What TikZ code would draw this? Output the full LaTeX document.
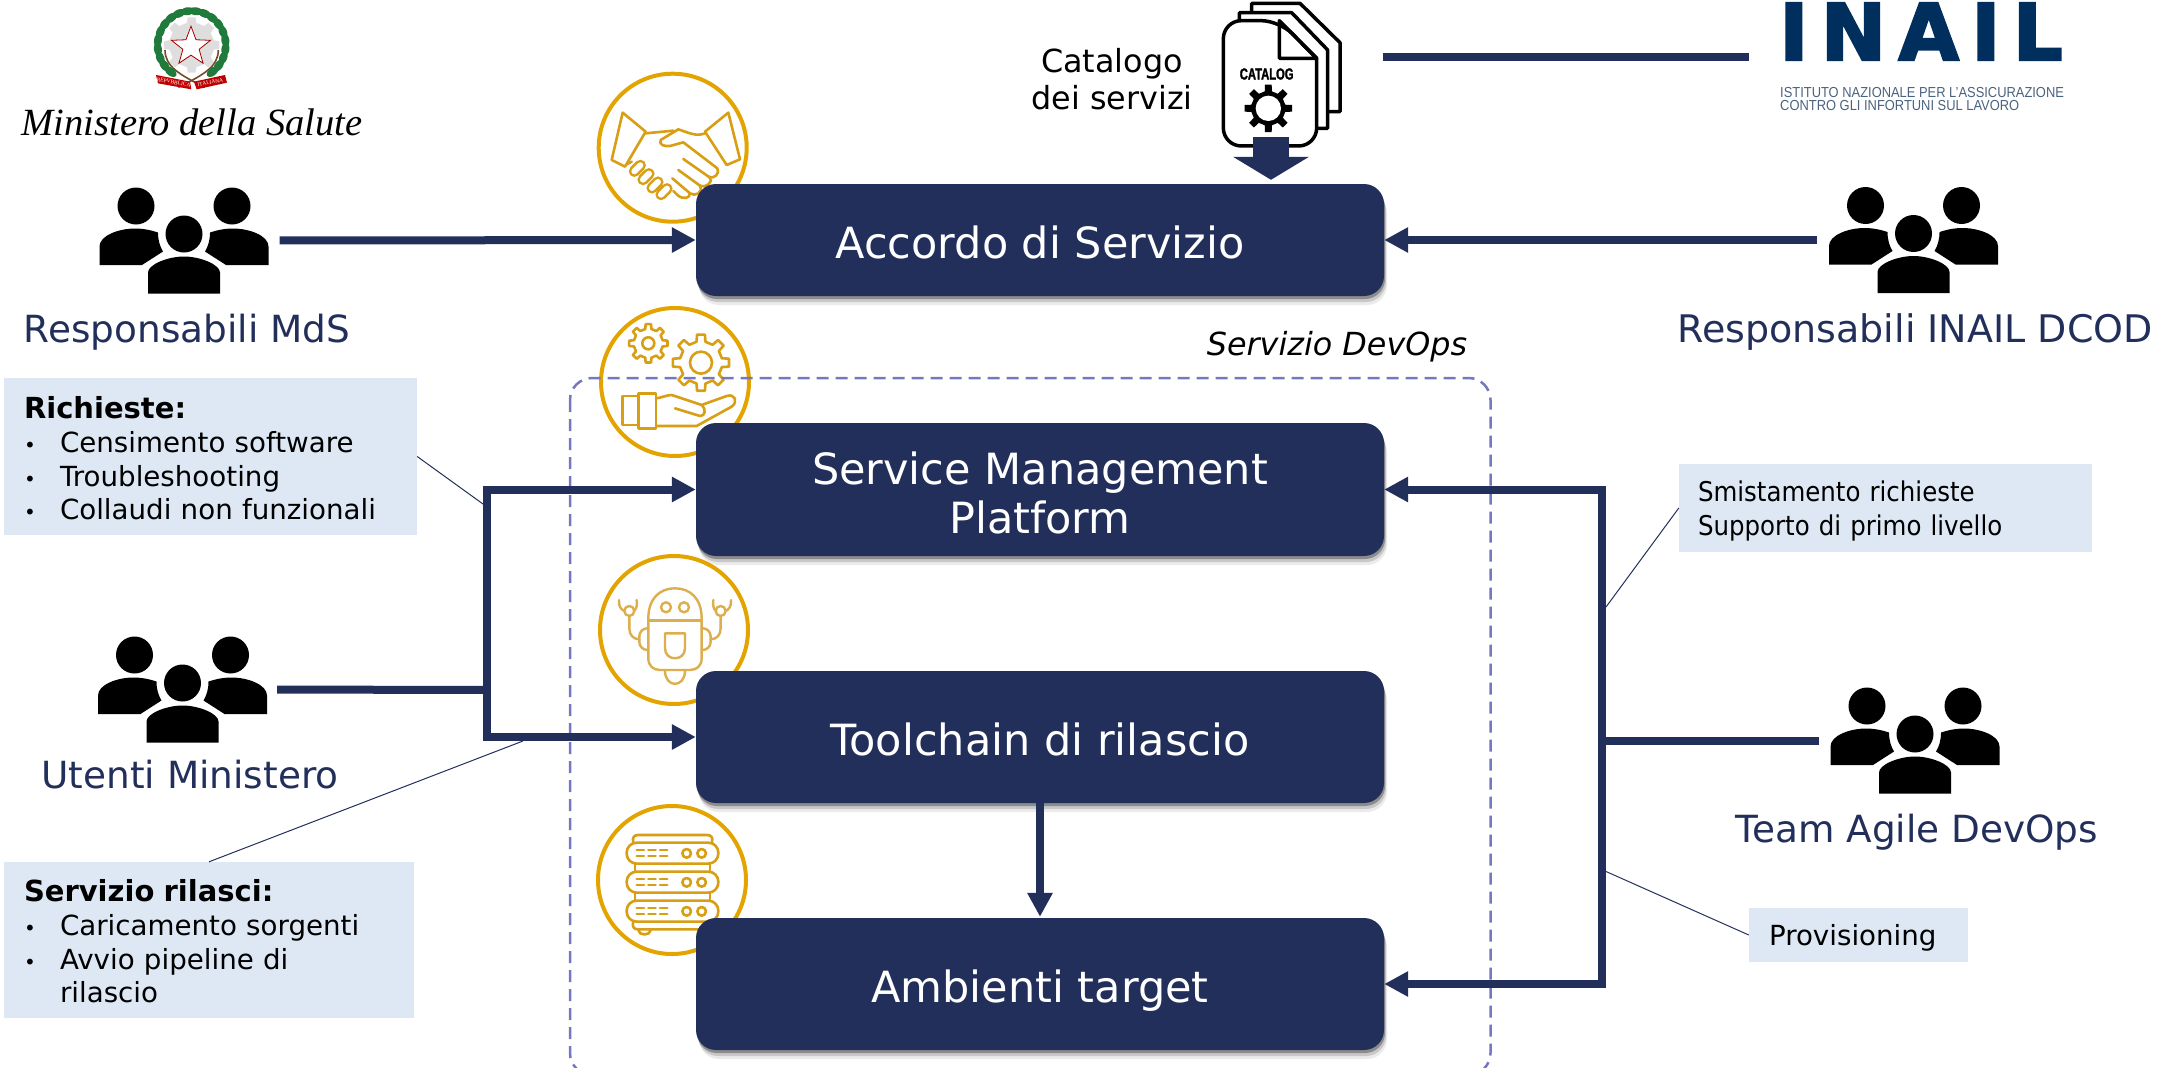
\documentclass[tikz,border=0pt]{standalone}
\usepackage{fontspec}
\usetikzlibrary{arrows.meta,shapes.geometric,shadows}
\setmainfont{DejaVu Sans}
\newfontfamily\tahomafont[FakeStretch=0.9]{DejaVu Sans}
\newfontfamily\logofont{Liberation Serif}
\newfontfamily\inailfont[LetterSpace=16,BoldFeatures={FakeBold=3}]{DejaVu Sans}
\newfontfamily\inailsmall[FakeStretch=0.89]{Liberation Sans}
\newfontfamily\catalogfont[FakeStretch=0.7,BoldFeatures={FakeBold=1.5}]{Liberation Sans}
\definecolor{navy}{HTML}{222F5B}
\definecolor{boxblue}{HTML}{DDE8F4}
\definecolor{ringgold}{HTML}{E3A400}
\definecolor{icongold}{HTML}{D89E14}
\definecolor{robotgold}{HTML}{DCAE4E}
\definecolor{dashblue}{HTML}{7478BE}
\definecolor{inailblue}{HTML}{002E5D}
\definecolor{inailgrey}{HTML}{4A6280}
\definecolor{leafgreen}{HTML}{1F7A3C}
\newcommand{\voce}[1]{\makebox[36pt][l]{\fontsize{20}{20}\selectfont\textbullet}#1}
\newcommand{\titolo}[1]{{\fontsize{29}{33.7}\selectfont\bfseries #1}}
\tikzset{
  mainbox/.style={fill=navy, rounded corners=20pt, minimum width=688pt, inner sep=0pt, align=center, text=white, font=\fontsize{43}{49}\selectfont,
    general shadow={shadow xshift=3pt,shadow yshift=-9pt,fill=black,opacity=.08},
    general shadow={shadow xshift=2pt,shadow yshift=-6pt,fill=black,opacity=.15},
    general shadow={shadow xshift=1pt,shadow yshift=-3pt,fill=black,opacity=.3}},
  singleline/.style={text height=36pt, text depth=0pt},
  infobox/.style={fill=boxblue, inner sep=0pt, align=left, text=black, font=\fontsize{27.7}{33.7}\selectfont},
  infoboxnarrow/.style={infobox, font=\tahomafont\fontsize{27.2}{33.7}\selectfont},
  grouplabel/.style={text=navy, inner sep=0pt, font=\fontsize{37.4}{44}\selectfont},
  groupicon/.style={minimum width=169pt, minimum height=105pt, inner sep=0pt},
  ring/.style={circle, draw=ringgold, line width=4pt, fill=white, minimum size=148pt, inner sep=0pt},
  flow/.style={draw=navy, line width=8pt, line join=miter},
  leader/.style={draw=navy, line width=1pt},
  handline/.style={draw=icongold, line width=2.6pt, line join=round, line cap=round},
  robotline/.style={draw=robotgold, line width=2.4pt, line join=round, line cap=round},
  docline/.style={draw=black, fill=white, line width=3.5pt, line join=round},
  pics/people/.style={code={
    \fill (-48,-34.5) circle (18.5);
    \fill (48,-34.5) circle (18.5);
    \fill (0,-6.5) circle (18.5);
    \foreach \s in {1,-1}{
      \fill[xscale=\s] (-84.5,24.5) -- (-84.5,6) .. controls (-84.5,-5) and (-65,-12) .. (-49,-12) .. controls (-40,-12) and (-32,-10) .. (-26,-8) .. controls (-26,0) and (-24,6) .. (-21,11) -- (-42,24.5) -- cycle;
    }
    \fill (-36,53) -- (-36,32) .. controls (-36,24) and (-16,16) .. (0,16) .. controls (16,16) and (36,24) .. (36,32) -- (36,53) -- cycle;
  }},
  pics/gearicon/.style n args={3}{code={
    \path[pic actions] (-12:#2) \foreach \a in {0,45,...,315}{ -- (\a-12:#2) -- (\a-8:#1) -- (\a+8:#1) -- (\a+12:#2)} -- cycle;
    \path[pic actions, fill=white] (0,0) circle (#3);
  }}
}
\begin{document}
\begin{tikzpicture}[x=1pt,y=-1pt]
\useasboundingbox (0,0) rectangle (2179,1068);
\clip (0,0) rectangle (2179,1068);

% stemma e logo Ministero
\begin{scope}[shift={(130,0)},scale=0.3333]
\pic[fill=black!13, transform shape] at (185,135) {gearicon={84}{68}{0.1}};
\draw[brown!60!black, line width=1.6pt] (105,150) .. controls (105,200) and (150,225) .. (225,262);
\draw[brown!60!black, line width=1.6pt] (265,150) .. controls (265,200) and (220,225) .. (145,262);
\foreach \a in {128,143,...,263}{
  \fill[leafgreen, shift={(185,135)}, rotate=-\a] (102,0) ellipse (12 and 20);
}
\foreach \a in {277,292,...,412}{
  \fill[leafgreen, shift={(185,135)}, rotate=-\a] (102,0) ellipse (12 and 20);
}
\fill[red!75!black] (78,225) -- (180,245) -- (184,268) -- (84,250) -- cycle;
\fill[red!75!black] (192,245) -- (285,225) -- (291,248) -- (200,268) -- cycle;
\node[star, star points=5, star point ratio=2.4, draw=red!65!black, fill=white, line width=.8pt, minimum size=41pt, inner sep=0pt] (emblemstar) at (183,140) {};
\node[rotate=-10, text=white, inner sep=0pt, font=\logofont\fontsize{5.5}{6}\selectfont] (ribbonleft) at (131,247) {REPVBBLICA};
\node[rotate=10, text=white, inner sep=0pt, font=\logofont\fontsize{5.5}{6}\selectfont] (ribbonright) at (241,247) {ITALIANA};
\end{scope}
\node[inner sep=0pt, font=\logofont\itshape\fontsize{38.5}{40}\selectfont] (ministero) at (192,122) {Ministero della Salute};

% logo INAIL
\node[inner sep=0pt, text=inailblue, font=\inailfont\bfseries\fontsize{78}{80}\selectfont] (inaillogo) at (1921,31.5) {INAIL};
\node[inner sep=0pt, anchor=west, align=left, text=inailgrey, font=\inailsmall\fontsize{14.5}{13}\selectfont] (inailname) at (1780,99) {ISTITUTO NAZIONALE PER L’ASSICURAZIONE\\CONTRO GLI INFORTUNI SUL LAVORO};

% documenti catalogo
\begin{scope}[shift={(1200,0)},scale=0.3333]
\draw[docline] (155,40) -- (155,10) -- (300,10) -- (420,128) -- (420,335) -- (380,335);
\draw[docline] (118,62) -- (118,38) -- (275,38) -- (383,150) -- (383,385) -- (350,385);
\draw[docline, rounded corners=18pt] (70,438) -- (70,62) -- (238,62) [sharp corners] -- (350,175) [rounded corners=18pt] -- (350,438) -- cycle;
\draw[draw=black, line width=3.5pt, line join=round] (238,62) -- (238,175) -- (350,175) -- cycle;
\pic[fill=black, transform shape] at (205,325) {gearicon={72}{52}{38}};
\node[inner sep=0pt, font=\catalogfont\bfseries\fontsize{16}{16}\selectfont] (catalogword) at (200,222) {CATALOG};
\end{scope}
\node[inner sep=0pt, align=center, font=\fontsize{31.8}{37.5}\selectfont] (catalogtext) at (1112,79) {Catalogo\\dei servizi};
\coordinate (catalogarrow) at (1271,137);
\coordinate (catalogline) at (1383,57);
\coordinate (inailline) at (1749,57);

% icone nei cerchi
\node[ring] (ringaccordo) at (672.7,147.7) {};
\node[ring] (ringservice) at (675,382) {};
\node[ring] (ringrobot) at (674,630) {};
\node[ring] (ringserver) at (672,880) {};

\begin{scope}[shift={(590,65)},scale=0.3333]
\draw[handline] (98,143) -- (167,200) -- (105,305) -- (65,285) -- cycle;
\draw[handline] (415,143) -- (345,200) -- (410,300) -- (450,283) -- cycle;
\draw[handline] (167,205) -- (250,197);
\draw[handline] (345,205) .. controls (320,215) and (300,205) .. (265,193) -- (212,225) .. controls (205,240) and (225,245) .. (240,243) -- (280,232) -- (382,310) .. controls (392,325) and (370,345) .. (355,335);
\draw[handline] (280,282) -- (360,338) .. controls (372,350) and (345,372) .. (330,362) -- (265,315);
\draw[handline] (330,362) .. controls (340,385) and (315,395) .. (300,385) -- (247,340);
\draw[handline] (300,385) .. controls (300,400) and (280,405) .. (262,390) -- (250,378);
\draw[handline] (110,298) -- (125,290);
\foreach \cx/\cy in {142/310,168/335,195/360,222/380}{
  \draw[handline, double=white, double distance=6pt] (\cx-9,\cy+9) -- (\cx+9,\cy-9);
}
\end{scope}

\begin{scope}[shift={(560,290)},scale=0.3333]
\pic[handline, fill=white, transform shape] at (265,160) {gearicon={58}{44}{18}};
\pic[handline, fill=white, transform shape] at (423,218) {gearicon={85}{64}{33}};
\draw[handline] (188,318) rectangle (235,405);
\draw[handline] (235,310) rectangle (288,415);
\draw[handline] (288,325) .. controls (310,322) and (320,315) .. (335,315) -- (425,345) -- (500,318) .. controls (525,310) and (535,335) .. (515,350) -- (410,408) -- (288,408);
\draw[handline] (345,355) -- (420,378) .. controls (435,378) and (440,360) .. (425,345);
\end{scope}

\begin{scope}[shift={(560,290)},scale=0.3333]
\draw[robotline] (265,985) .. controls (265,925) and (300,895) .. (345,895) .. controls (390,895) and (425,925) .. (425,985) -- (425,1105) .. controls (425,1128) and (410,1140) .. (390,1140) -- (300,1140) .. controls (280,1140) and (265,1128) .. (265,1105) -- cycle;
\draw[robotline] (265,992) -- (425,992);
\draw[robotline] (318,952) circle (15);
\draw[robotline] (372,952) circle (15);
\draw[robotline] (315,1030) -- (375,1030) -- (375,1075) .. controls (375,1115) and (315,1115) .. (315,1075) -- cycle;
\draw[robotline] (315,1142) .. controls (315,1195) and (375,1195) .. (375,1142);
\foreach \s in {1,-1}{
  \begin{scope}[shift={(345,0)},xscale=\s]
  \draw[robotline, rounded corners=8pt] (80,1015) -- (107,1015) -- (107,1080) -- (80,1080);
  \draw[robotline] (107,1048) .. controls (125,1048) and (137,1035) .. (137,1015) -- (137,978);
  \draw[robotline] (137,963) circle (15);
  \draw[robotline] (115,930) .. controls (112,950) and (118,960) .. (124,963);
  \draw[robotline] (168,930) .. controls (170,950) and (160,960) .. (152,963);
  \end{scope}
}
\end{scope}

\begin{scope}[shift={(560,680)},scale=0.3333]
\draw[handline] (220,488) .. controls (215,470) and (225,465) .. (235,465) -- (440,465) .. controls (452,465) and (460,470) .. (456,488);
\draw[handline] (220,725) .. controls (215,745) and (225,748) .. (235,748) -- (440,748) .. controls (452,748) and (460,745) .. (456,725);
\draw[handline] (235,750) .. controls (235,768) and (272,768) .. (272,750);
\foreach \py in {488,575,662}{
  \draw[handline, rounded corners=10pt] (200,\py) rectangle (475,\py+63);
  \foreach \px in {230,265,300}{
    \draw[handline] (\px,\py+22) -- (\px+22,\py+22);
    \draw[handline] (\px,\py+40) -- (\px+22,\py+40);
  }
  \draw[handline] (380,\py+32) circle (13);
  \draw[handline] (425,\py+32) circle (13);
}
\draw[handline] (225,551) -- (225,575);
\draw[handline] (450,551) -- (450,575);
\draw[handline] (225,638) -- (225,662);
\draw[handline] (450,638) -- (450,662);
\end{scope}

% riquadro servizio devops
\draw[draw=dashblue, line width=2.5pt, dash pattern=on 12pt off 7pt, rounded corners=22pt] (570,378) rectangle (1490.5,1075);
\node[inner sep=0pt, font=\itshape\fontsize{31.8}{36}\selectfont] (devops) at (1337,347) {Servizio DevOps};

% gruppi
\node[groupicon] (mds) at (184,240.5) {};
\node[groupicon] (utenti) at (182.5,689.5) {};
\node[groupicon] (team) at (1915,740.5) {};
\node[groupicon] (inail) at (1913.5,240) {};
\pic at (mds) {people};
\pic at (utenti) {people};
\pic at (team) {people};
\pic at (inail) {people};
\node[grouplabel] (mdslabel) at (187,332) {Responsabili MdS};
\node[grouplabel] (utentilabel) at (190,775) {Utenti Ministero};
\node[grouplabel] (teamlabel) at (1917,832) {Team Agile DevOps};
\node[grouplabel, font=\fontsize{38}{44}\selectfont] (inaillabel) at (1915,332) {Responsabili INAIL DCOD};

% box principali
\node[mainbox, singleline, minimum height=112pt] (accordo) at (1040,240) {Accordo di Servizio};
\node[mainbox, minimum height=133pt] (service) at (1040,489.5) {\rule{0pt}{39pt}Service Management\\Platform};
\node[mainbox, singleline, minimum height=132pt] (toolchain) at (1040,737) {Toolchain di rilascio};
\node[mainbox, singleline, minimum height=132pt] (ambienti) at (1040,984) {Ambienti target};

% note
\node[infobox, minimum width=413pt, minimum height=157pt, text width=373pt] (richieste) at (210.5,456.5) {\rule{0pt}{26pt}\titolo{Richieste:}\\\voce{Censimento software}\\\voce{Troubleshooting}\\\voce{Collaudi non funzionali}};
\node[infobox, minimum width=410pt, minimum height=156pt, text width=370pt] (rilasci) at (209,940) {\rule{0pt}{25pt}\titolo{Servizio rilasci:}\\\voce{Caricamento sorgenti}\\\voce{Avvio pipeline di}\\\hspace*{36pt}rilascio};
\node[infoboxnarrow, minimum width=413pt, minimum height=88pt, text width=375pt] (smistamento) at (1885.5,508) {\rule{0pt}{27pt}Smistamento richieste\\Supporto di primo livello};
\node[infobox, minimum width=219pt, minimum height=54pt, text width=179pt] (provisioning) at (1858.5,935) {\rule{0pt}{27pt}Provisioning};

% connessioni
\coordinate (busleft) at (487,690);
\coordinate (busright) at (1602,740.5);
\coordinate (richiestein) at (483,504);
\coordinate (rilasciin) at (523,741);
\coordinate (smistamentoin) at (1606,607);
\coordinate (provisioningin) at (1606,871.5);
\draw[leader] (richieste.east) -- (richiestein);
\draw[leader] (rilasci.north) -- (rilasciin);
\draw[leader] (smistamento.west) -- (smistamentoin);
\draw[leader] (provisioning.west) -- (provisioningin);
\draw[flow, -{Triangle[length=24pt,width=24pt]}, shorten <=11pt] (mds.east) -- (accordo.west);
\draw[flow, -{Triangle[length=24pt,width=24pt]}, shorten <=12pt] (inail.west) -- (accordo.east);
\draw[flow] (catalogline) -- (inailline);
\draw[flow, shorten <=10pt] (utenti.east) -- (busleft);
\draw[flow, {Triangle[length=24pt,width=24pt]}-{Triangle[length=24pt,width=24pt]}] (service.west) -- (busleft |- service.west) -- (busleft |- toolchain.west) -- (toolchain.west);
\draw[flow, shorten <=11pt] (team.west) -- (busright);
\draw[flow, {Triangle[length=24pt,width=24pt]}-{Triangle[length=24pt,width=24pt]}] (service.east) -- (busright |- service.east) -- (busright |- ambienti.east) -- (ambienti.east);
\draw[flow, -{Triangle[length=24pt,width=24pt]}, shorten >=1pt] (toolchain.south) -- (ambienti.north);
\draw[draw=navy, line width=36pt, -{Triangle[length=23pt,width=75pt]}, shorten >=4pt] (catalogarrow) -- (catalogarrow |- accordo.north);
\end{tikzpicture}
\end{document}
